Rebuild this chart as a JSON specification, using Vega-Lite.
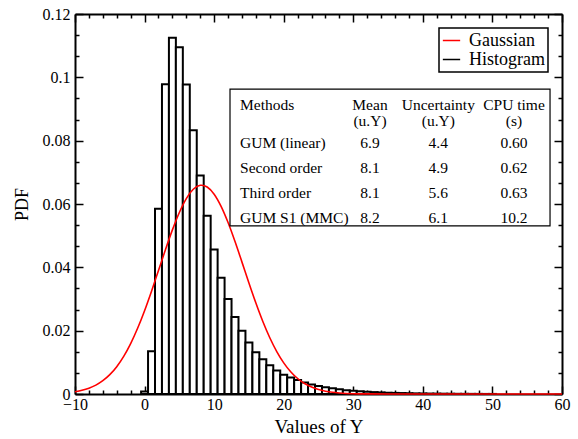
{
  "$schema": "https://vega.github.io/schema/vega-lite/v6.json",
  "width": 487,
  "height": 380,
  "autosize": "none",
  "padding": {"left": 75, "top": 14, "right": 16, "bottom": 45},
  "background": "white",
  "config": {
    "view": {"stroke": null},
    "font": "Liberation Serif",
    "axis": {
      "grid": false,
      "domainColor": "black",
      "domainWidth": 2,
      "tickColor": "black",
      "tickWidth": 1.5,
      "labelColor": "black",
      "labelFont": "Liberation Serif",
      "labelFontSize": 16,
      "labelOverlap": false,
      "labelFlush": false,
      "titleColor": "black",
      "titleFont": "Liberation Serif",
      "titleFontWeight": "normal"
    },
    "legend": {
      "orient": "top-right",
      "offset": 14,
      "fillColor": "white",
      "strokeColor": "black",
      "strokeWidth": 1.5,
      "padding": 3,
      "cornerRadius": 0,
      "labelFont": "Liberation Serif",
      "labelFontSize": 18,
      "labelColor": "black",
      "labelOffset": 8,
      "symbolType": "stroke",
      "symbolSize": 300,
      "symbolStrokeWidth": 1.5,
      "rowPadding": -6,
      "title": null
    }
  },
  "datasets": {
    "hist": [
      {"lo": -0.5, "hi": 0.5, "pdf": 0.0008},
      {"lo": 0.5, "hi": 1.5, "pdf": 0.0135},
      {"lo": 1.5, "hi": 2.5, "pdf": 0.0585},
      {"lo": 2.5, "hi": 3.5, "pdf": 0.0978},
      {"lo": 3.5, "hi": 4.5, "pdf": 0.1125},
      {"lo": 4.5, "hi": 5.5, "pdf": 0.1095},
      {"lo": 5.5, "hi": 6.5, "pdf": 0.0977},
      {"lo": 6.5, "hi": 7.5, "pdf": 0.0833},
      {"lo": 7.5, "hi": 8.5, "pdf": 0.0690},
      {"lo": 8.5, "hi": 9.5, "pdf": 0.0563},
      {"lo": 9.5, "hi": 10.5, "pdf": 0.0456},
      {"lo": 10.5, "hi": 11.5, "pdf": 0.0367},
      {"lo": 11.5, "hi": 12.5, "pdf": 0.0300},
      {"lo": 12.5, "hi": 13.5, "pdf": 0.0243},
      {"lo": 13.5, "hi": 14.5, "pdf": 0.0200},
      {"lo": 14.5, "hi": 15.5, "pdf": 0.0163},
      {"lo": 15.5, "hi": 16.5, "pdf": 0.0132},
      {"lo": 16.5, "hi": 17.5, "pdf": 0.0110},
      {"lo": 17.5, "hi": 18.5, "pdf": 0.0091},
      {"lo": 18.5, "hi": 19.5, "pdf": 0.0074},
      {"lo": 19.5, "hi": 20.5, "pdf": 0.0061},
      {"lo": 20.5, "hi": 21.5, "pdf": 0.0052},
      {"lo": 21.5, "hi": 22.5, "pdf": 0.0044},
      {"lo": 22.5, "hi": 23.5, "pdf": 0.0036},
      {"lo": 23.5, "hi": 24.5, "pdf": 0.0030},
      {"lo": 24.5, "hi": 25.5, "pdf": 0.0025},
      {"lo": 25.5, "hi": 26.5, "pdf": 0.0021},
      {"lo": 26.5, "hi": 27.5, "pdf": 0.0018},
      {"lo": 27.5, "hi": 28.5, "pdf": 0.0015},
      {"lo": 28.5, "hi": 29.5, "pdf": 0.0012},
      {"lo": 29.5, "hi": 30.5, "pdf": 0.0010},
      {"lo": 30.5, "hi": 31.5, "pdf": 0.0009},
      {"lo": 31.5, "hi": 32.5, "pdf": 0.0007},
      {"lo": 32.5, "hi": 33.5, "pdf": 0.0006},
      {"lo": 33.5, "hi": 34.5, "pdf": 0.0005},
      {"lo": 34.5, "hi": 35.5, "pdf": 0.0004},
      {"lo": 35.5, "hi": 36.5, "pdf": 0.00035},
      {"lo": 36.5, "hi": 37.5, "pdf": 0.0003},
      {"lo": 37.5, "hi": 38.5, "pdf": 0.00025},
      {"lo": 38.5, "hi": 39.5, "pdf": 0.0002},
      {"lo": 39.5, "hi": 40.5, "pdf": 0.00017},
      {"lo": 40.5, "hi": 41.5, "pdf": 0.00014},
      {"lo": 41.5, "hi": 42.5, "pdf": 0.00012},
      {"lo": 42.5, "hi": 43.5, "pdf": 0.0001},
      {"lo": 43.5, "hi": 44.5, "pdf": 0.00008},
      {"lo": 44.5, "hi": 45.5, "pdf": 0.00006},
      {"lo": 45.5, "hi": 46.5, "pdf": 0.00005},
      {"lo": 46.5, "hi": 47.5, "pdf": 0.00004},
      {"lo": 47.5, "hi": 48.5, "pdf": 0.00003},
      {"lo": 48.5, "hi": 49.5, "pdf": 0.00002},
      {"lo": 49.5, "hi": 50.5, "pdf": 0.00002}
    ],
    "gauss": [
      {"x": -10, "pdf": 0.000715},
      {"x": -9, "pdf": 0.001159},
      {"x": -8, "pdf": 0.001829},
      {"x": -7, "pdf": 0.002809},
      {"x": -6, "pdf": 0.004198},
      {"x": -5, "pdf": 0.006102},
      {"x": -4, "pdf": 0.008631},
      {"x": -3, "pdf": 0.011884},
      {"x": -2, "pdf": 0.015920},
      {"x": -1, "pdf": 0.020749},
      {"x": 0, "pdf": 0.026317},
      {"x": 1, "pdf": 0.032480},
      {"x": 2, "pdf": 0.039004},
      {"x": 3, "pdf": 0.045575},
      {"x": 4, "pdf": 0.051821},
      {"x": 5, "pdf": 0.057331},
      {"x": 6, "pdf": 0.061722},
      {"x": 7, "pdf": 0.064656},
      {"x": 8, "pdf": 0.065904},
      {"x": 8.2, "pdf": 0.065940},
      {"x": 9, "pdf": 0.065366},
      {"x": 10, "pdf": 0.063085},
      {"x": 11, "pdf": 0.059243},
      {"x": 12, "pdf": 0.054136},
      {"x": 13, "pdf": 0.048136},
      {"x": 14, "pdf": 0.041646},
      {"x": 15, "pdf": 0.035062},
      {"x": 16, "pdf": 0.028723},
      {"x": 17, "pdf": 0.022895},
      {"x": 18, "pdf": 0.017758},
      {"x": 19, "pdf": 0.013402},
      {"x": 20, "pdf": 0.009843},
      {"x": 21, "pdf": 0.007034},
      {"x": 22, "pdf": 0.004891},
      {"x": 23, "pdf": 0.003309},
      {"x": 24, "pdf": 0.002179},
      {"x": 25, "pdf": 0.001396},
      {"x": 26, "pdf": 0.000870},
      {"x": 27, "pdf": 0.000528},
      {"x": 28, "pdf": 0.000311},
      {"x": 29, "pdf": 0.000179},
      {"x": 30, "pdf": 0.000100},
      {"x": 32, "pdf": 0.000029},
      {"x": 35, "pdf": 0.000004},
      {"x": 40, "pdf": 0.0},
      {"x": 50, "pdf": 0.0},
      {"x": 60, "pdf": 0.0}
    ],
    "table": [
      {"row": 0, "method": "Methods\n ", "mean": "Mean\n(u.Y)", "unc": "Uncertainty\n(u.Y)", "cpu": "CPU time\n(s)"},
      {"row": 1, "method": "GUM (linear)", "mean": "6.9", "unc": "4.4", "cpu": "0.60"},
      {"row": 2, "method": "Second order", "mean": "8.1", "unc": "4.9", "cpu": "0.62"},
      {"row": 3, "method": "Third order", "mean": "8.1", "unc": "5.6", "cpu": "0.63"},
      {"row": 4, "method": "GUM S1 (MMC)", "mean": "8.2", "unc": "6.1", "cpu": "10.2"}
    ]
  },
  "layer": [
    {
      "data": {"name": "hist"},
      "mark": {"type": "bar", "fill": "white", "strokeWidth": 2},
      "encoding": {
        "x": {
          "field": "lo", "type": "quantitative",
          "scale": {"domain": [-10, 60], "nice": false, "zero": false},
          "axis": {
            "orient": "bottom",
            "values": [-10, -8, -6, -4, -2, 0, 2, 4, 6, 8, 10, 12, 14, 16, 18, 20, 22, 24, 26, 28, 30, 32, 34, 36, 38, 40, 42, 44, 46, 48, 50, 52, 54, 56, 58, 60],
            "labelExpr": "datum.value % 10 === 0 ? datum.label : ''",
            "tickSize": {"condition": {"test": "datum.value % 10 === 0", "value": -8}, "value": -4},
            "labelPadding": 10,
            "title": "Values of Y",
            "titleFontSize": 19,
            "titlePadding": 1
          }
        },
        "x2": {"field": "hi"},
        "y": {
          "field": "pdf", "type": "quantitative",
          "scale": {"domain": [0, 0.12], "nice": false},
          "axis": {
            "orient": "left",
            "values": [0, 0.006667, 0.013333, 0.02, 0.026667, 0.033333, 0.04, 0.046667, 0.053333, 0.06, 0.066667, 0.073333, 0.08, 0.086667, 0.093333, 0.1, 0.106667, 0.113333, 0.12],
            "labelExpr": "abs(datum.value * 50 - round(datum.value * 50)) < 0.001 ? format(datum.value, '~g') : ''",
            "tickSize": {"condition": {"test": "abs(datum.value * 50 - round(datum.value * 50)) < 0.001", "value": -8}, "value": -4},
            "labelPadding": 13,
            "title": "PDF",
            "titleFontSize": 18,
            "titlePadding": 11
          }
        },
        "y2": {"datum": 0},
        "stroke": {
          "datum": "Histogram",
          "scale": {"domain": ["Gaussian", "Histogram"], "range": ["#ff0000", "#000000"]}
        }
      }
    },
    {
      "data": {"name": "gauss"},
      "mark": {"type": "line", "strokeWidth": 1.6, "interpolate": "monotone"},
      "encoding": {
        "x": {
          "field": "x", "type": "quantitative",
          "scale": {"domain": [-10, 60], "nice": false, "zero": false},
          "axis": {
            "orient": "top",
            "values": [-10, -8, -6, -4, -2, 0, 2, 4, 6, 8, 10, 12, 14, 16, 18, 20, 22, 24, 26, 28, 30, 32, 34, 36, 38, 40, 42, 44, 46, 48, 50, 52, 54, 56, 58, 60],
            "labels": false,
            "tickSize": {"condition": {"test": "datum.value % 10 === 0", "value": -8}, "value": -4},
            "title": null
          }
        },
        "y": {
          "field": "pdf", "type": "quantitative",
          "scale": {"domain": [0, 0.12], "nice": false},
          "axis": {
            "orient": "right",
            "values": [0, 0.006667, 0.013333, 0.02, 0.026667, 0.033333, 0.04, 0.046667, 0.053333, 0.06, 0.066667, 0.073333, 0.08, 0.086667, 0.093333, 0.1, 0.106667, 0.113333, 0.12],
            "labels": false,
            "tickSize": {"condition": {"test": "abs(datum.value * 50 - round(datum.value * 50)) < 0.001", "value": -8}, "value": -4},
            "title": null
          }
        },
        "stroke": {"datum": "Gaussian"}
      }
    },
    {
      "data": {"values": [{}]},
      "mark": {"type": "rect", "fill": "white", "stroke": "black", "strokeWidth": 1.2},
      "encoding": {
        "x": {"datum": 12.28, "type": "quantitative", "scale": {"domain": [-10, 60], "nice": false, "zero": false}, "axis": null},
        "x2": {"datum": 58.28},
        "y": {"datum": 0.0963, "type": "quantitative", "scale": {"domain": [0, 0.12], "nice": false}, "axis": null},
        "y2": {"datum": 0.0531}
      }
    },
    {
      "data": {"name": "table"},
      "transform": [{"filter": "datum.row === 0"}],
      "layer": [
        {
          "mark": {"type": "text", "align": "left", "baseline": "middle", "fontSize": 15.5, "font": "Liberation Serif", "color": "black", "lineBreak": "\n", "lineHeight": 15.7, "dy": -12.7},
          "encoding": {
            "x": {"datum": 13.72, "type": "quantitative", "scale": {"domain": [-10, 60], "nice": false, "zero": false}, "axis": null},
            "y": {"field": "row", "type": "quantitative", "scale": {"domain": [-4.148, 11.052], "reverse": true, "nice": false, "zero": false}, "axis": null},
            "text": {"field": "method"}
          }
        },
        {
          "mark": {"type": "text", "align": "center", "baseline": "middle", "fontSize": 15.5, "font": "Liberation Serif", "color": "black", "lineBreak": "\n", "lineHeight": 15.7, "dy": -12.7},
          "encoding": {
            "x": {"datum": 32.4, "type": "quantitative", "scale": {"domain": [-10, 60], "nice": false, "zero": false}, "axis": null},
            "y": {"field": "row", "type": "quantitative", "scale": {"domain": [-4.148, 11.052], "reverse": true, "nice": false, "zero": false}, "axis": null},
            "text": {"field": "mean"}
          }
        },
        {
          "mark": {"type": "text", "align": "center", "baseline": "middle", "fontSize": 15.5, "font": "Liberation Serif", "color": "black", "lineBreak": "\n", "lineHeight": 15.7, "dy": -12.7},
          "encoding": {
            "x": {"datum": 42.22, "type": "quantitative", "scale": {"domain": [-10, 60], "nice": false, "zero": false}, "axis": null},
            "y": {"field": "row", "type": "quantitative", "scale": {"domain": [-4.148, 11.052], "reverse": true, "nice": false, "zero": false}, "axis": null},
            "text": {"field": "unc"}
          }
        },
        {
          "mark": {"type": "text", "align": "center", "baseline": "middle", "fontSize": 15.5, "font": "Liberation Serif", "color": "black", "lineBreak": "\n", "lineHeight": 15.7, "dy": -12.7},
          "encoding": {
            "x": {"datum": 53.1, "type": "quantitative", "scale": {"domain": [-10, 60], "nice": false, "zero": false}, "axis": null},
            "y": {"field": "row", "type": "quantitative", "scale": {"domain": [-4.148, 11.052], "reverse": true, "nice": false, "zero": false}, "axis": null},
            "text": {"field": "cpu"}
          }
        }
      ]
    },
    {
      "data": {"name": "table"},
      "transform": [{"filter": "datum.row > 0"}],
      "layer": [
        {
          "mark": {"type": "text", "align": "left", "baseline": "middle", "fontSize": 15.5, "font": "Liberation Serif", "color": "black"},
          "encoding": {
            "x": {"datum": 13.72, "type": "quantitative", "scale": {"domain": [-10, 60], "nice": false, "zero": false}, "axis": null},
            "y": {"field": "row", "type": "quantitative", "scale": {"domain": [-4.148, 11.052], "reverse": true, "nice": false, "zero": false}, "axis": null},
            "text": {"field": "method"}
          }
        },
        {
          "mark": {"type": "text", "align": "center", "baseline": "middle", "fontSize": 15.5, "font": "Liberation Serif", "color": "black"},
          "encoding": {
            "x": {"datum": 32.4, "type": "quantitative", "scale": {"domain": [-10, 60], "nice": false, "zero": false}, "axis": null},
            "y": {"field": "row", "type": "quantitative", "scale": {"domain": [-4.148, 11.052], "reverse": true, "nice": false, "zero": false}, "axis": null},
            "text": {"field": "mean"}
          }
        },
        {
          "mark": {"type": "text", "align": "center", "baseline": "middle", "fontSize": 15.5, "font": "Liberation Serif", "color": "black"},
          "encoding": {
            "x": {"datum": 42.22, "type": "quantitative", "scale": {"domain": [-10, 60], "nice": false, "zero": false}, "axis": null},
            "y": {"field": "row", "type": "quantitative", "scale": {"domain": [-4.148, 11.052], "reverse": true, "nice": false, "zero": false}, "axis": null},
            "text": {"field": "unc"}
          }
        },
        {
          "mark": {"type": "text", "align": "center", "baseline": "middle", "fontSize": 15.5, "font": "Liberation Serif", "color": "black"},
          "encoding": {
            "x": {"datum": 53.1, "type": "quantitative", "scale": {"domain": [-10, 60], "nice": false, "zero": false}, "axis": null},
            "y": {"field": "row", "type": "quantitative", "scale": {"domain": [-4.148, 11.052], "reverse": true, "nice": false, "zero": false}, "axis": null},
            "text": {"field": "cpu"}
          }
        }
      ]
    }
  ],
  "resolve": {"scale": {"y": "independent"}, "axis": {"x": "independent", "y": "independent"}}
}
